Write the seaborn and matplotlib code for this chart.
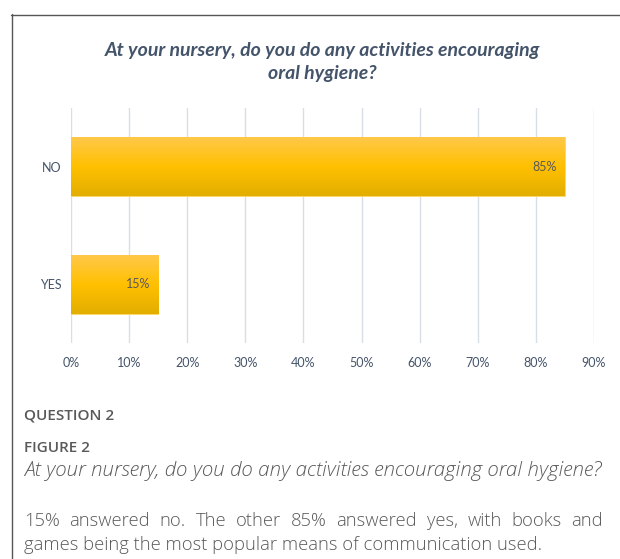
import numpy as np
import pandas as pd
import matplotlib
matplotlib.use('Agg')
import matplotlib.pyplot as plt
from matplotlib.colors import to_rgb
from matplotlib.lines import Line2D
import seaborn as sns

# data
answers = ['NO', 'YES']
shares = [0.85, 0.15]
xticks = [0.0, 0.1, 0.2, 0.3, 0.4, 0.5, 0.6, 0.7, 0.8, 0.9]

title = 'At your nursery, do you do any activities encouraging\noral hygiene?'
question = 'QUESTION 2'
fig_label = 'FIGURE 2'
caption = 'At your nursery, do you do any activities encouraging oral hygiene?'
body_1 = '15% answered no. The other 85% answered yes, with books and'
body_2 = 'games being the most popular means of communication used.'

sns.set_style('white')
plt.rcParams['font.family'] = ['Lato', 'DejaVu Sans']

df = pd.DataFrame({'answer': answers, 'share': shares})

W, H = 620, 559
fig = plt.figure(figsize=(6.2, 5.59), dpi=100)
ax = fig.add_axes([71 / W, 216 / H, 523 / W, 235 / H])

sns.barplot(data=df, x='share', y='answer', orient='h', color='#FFC000',
            width=0.5, edgecolor='#FFD966', linewidth=0.6, ax=ax)

# vertical gold gradient inside each bar
top_c, mid_c, bot_c = [np.array(to_rgb(c)) for c in ('#FFC84A', '#FFC000', '#E2AE00')]
t = np.linspace(0, 1, 100)[:, None]
grad = np.where(t < 0.5, top_c + (mid_c - top_c) * (t / 0.5),
                mid_c + (bot_c - mid_c) * ((t - 0.5) / 0.5))
grad = grad[:, None, :]
for patch in ax.patches:
    x0, y0 = patch.get_x(), patch.get_y()
    w, h = patch.get_width(), patch.get_height()
    im = ax.imshow(grad, extent=(x0, x0 + w, y0 + h, y0), origin='upper',
                   aspect='auto', zorder=patch.get_zorder() + 0.1)
    im.set_clip_path(patch)
    ax.text(x0 + w - 0.014, y0 + h / 2, f'{w:.0%}', ha='right', va='center',
            fontsize=9, color='#595959', zorder=5)

ax.set_xlim(0, 0.9)
ax.set_ylim(1.5, -0.5)
ax.set_xticks(xticks)
ax.set_xticklabels([f'{v:.0%}' for v in xticks])
ax.grid(axis='x', color='#D9DDE6', linewidth=1)
ax.set_axisbelow(True)
for s in ax.spines.values():
    s.set_visible(False)
ax.tick_params(axis='both', length=0, labelsize=9, colors='#44546A')
ax.tick_params(axis='x', pad=10)
ax.tick_params(axis='y', pad=7)
ax.set_xlabel('')
ax.set_ylabel('')

fig.text(322 / W, 1 - 62 / H, title, ha='center', va='center',
         fontsize=14, fontweight='bold', fontstyle='italic', color='#44546A',
         linespacing=1.38)

# frame of the chart box
fig.add_artist(Line2D([11.5 / W, 11.5 / W], [0, 1 - 14 / H],
                      color='#555555', linewidth=1, transform=fig.transFigure))
fig.add_artist(Line2D([11 / W, 1], [1 - 14.5 / H, 1 - 14.5 / H],
                      color='#555555', linewidth=1, transform=fig.transFigure))

txt_font = ['Open Sans', 'DejaVu Sans']
grey = '#595959'
fig.text(24 / W, 1 - 415 / H, question, ha='left', va='center',
         fontsize=11, color=grey, family=txt_font, fontweight='semibold')
fig.text(24 / W, 1 - 448 / H, fig_label, ha='left', va='center',
         fontsize=11, color=grey, family=txt_font, fontweight='semibold')

renderer = fig.canvas.get_renderer()


def fitted(s, y_px, right_px, **kw):
    # scale the font so the line ends where it does in the page
    tx = fig.text(24 / W, 1 - y_px / H, s, ha='left', va='center', **kw)
    width = tx.get_window_extent(renderer).width
    tx.set_fontsize(kw['fontsize'] * (right_px - 24) / width)
    return tx


fitted(caption, 471, 601, fontsize=12, color=grey, family=txt_font,
       fontstyle='italic', fontweight='light')
t2 = fitted(body_2, 545, 540, fontsize=12, color=grey, family=txt_font,
            fontweight='light')
size = t2.get_fontsize()

# first body line is justified between the page margins
words = body_1.split(' ')
widths = []
for wd in words:
    tmp = fig.text(0, 0, wd, fontsize=size, family=txt_font, fontweight='light')
    widths.append(tmp.get_window_extent(renderer).width)
    tmp.remove()
gap = (603 - 24 - sum(widths)) / (len(words) - 1)
xpos = 24
for wd, wpx in zip(words, widths):
    fig.text(xpos / W, 1 - 521 / H, wd, ha='left', va='center', fontsize=size,
             color=grey, family=txt_font, fontweight='light')
    xpos += wpx + gap

fig.savefig('out.png', dpi=100)
